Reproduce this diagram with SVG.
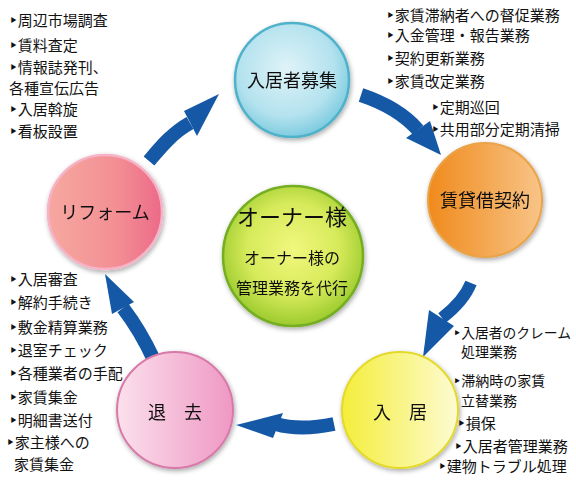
<svg xmlns="http://www.w3.org/2000/svg" width="576" height="480" viewBox="0 0 576 480">
<style>
.t{font-family:"Noto Sans CJK JP","DejaVu Sans",sans-serif;font-size:15px;fill:#111}
.s{font-size:14px}
.n{font-family:"Noto Sans CJK JP","DejaVu Sans",sans-serif;font-size:18px;fill:#111;text-anchor:middle}
.arw{fill:none;stroke:#1559a6;stroke-width:14}
.ah{fill:#1559a6}
</style>
<defs>
<filter id="sh" x="-20%" y="-20%" width="140%" height="140%"><feGaussianBlur in="SourceAlpha" stdDeviation="2.5"/><feOffset dx="1" dy="2"/><feComponentTransfer><feFuncA type="linear" slope="0.35"/></feComponentTransfer><feMerge><feMergeNode/><feMergeNode in="SourceGraphic"/></feMerge></filter>
<radialGradient id="gC" cx="0.45" cy="0.4" r="0.6"><stop offset="0" stop-color="#dff3f8"/><stop offset="0.7" stop-color="#b3e2ee"/><stop offset="1" stop-color="#7fcce0"/></radialGradient>
<linearGradient id="gO" x1="0" y1="0" x2="1" y2="0"><stop offset="0" stop-color="#f08a1c"/><stop offset="1" stop-color="#f8c487"/></linearGradient>
<linearGradient id="gR" x1="0" y1="0" x2="1" y2="0"><stop offset="0" stop-color="#f6a8a0"/><stop offset="0.6" stop-color="#f38f94"/><stop offset="1" stop-color="#ec6a88"/></linearGradient>
<radialGradient id="gG" cx="0.5" cy="0.45" r="0.55"><stop offset="0" stop-color="#f2f77e"/><stop offset="0.6" stop-color="#d6ea5a"/><stop offset="1" stop-color="#9ccb2e"/></radialGradient>
<linearGradient id="gM" x1="0" y1="0" x2="1" y2="0"><stop offset="0" stop-color="#fbe0ec"/><stop offset="1" stop-color="#ef98c4"/></linearGradient>
<linearGradient id="gY" x1="0" y1="0" x2="1" y2="0"><stop offset="0" stop-color="#f4ee3a"/><stop offset="1" stop-color="#fdfbd2"/></linearGradient>
</defs>
<rect width="576" height="480" fill="#fff"/>
<g id="connectors">
<path class="arw" d="M149,161 C160,148 172,133 190,123"/>
<polygon class="ah" points="219,94 184,111 197,136"/>
<path class="arw" d="M361,95 C385,103 405,115 418,130"/>
<polygon class="ah" points="441,155 406,138 430,121"/>
<path class="arw" style="stroke-width:12" d="M471,283 C465,298 455,308 442,318"/>
<polygon class="ah" points="423,357 429,310 454,326"/>
<path class="arw" d="M334,424 Q300,431 276,424"/>
<polygon class="ah" points="236,425 283,413 273,438"/>
<path class="arw" d="M154,360 Q140,330 123,308"/>
<polygon class="ah" points="105,274 112,314 134,302"/>
</g>
<g id="recruit" filter="url(#sh)">
<circle cx="292" cy="80" r="57" fill="url(#gC)" stroke="#4fb2ca" stroke-width="2.5"/>
<text class="n" x="292" y="87">入居者募集</text>
</g>
<g id="contract" filter="url(#sh)">
<circle cx="485" cy="200" r="57" fill="url(#gO)" stroke="#e9a34a" stroke-width="2"/>
<text class="n" x="485" y="207">賃貸借契約</text>
</g>
<g id="reform" filter="url(#sh)">
<circle cx="105" cy="212" r="57" fill="url(#gR)" stroke="#f6b3c8" stroke-width="2.5"/>
<text class="n" x="105" y="219">リフォーム</text>
</g>
<g id="owner" filter="url(#sh)">
<circle cx="293" cy="256" r="70" fill="url(#gG)" stroke="#74ae22" stroke-width="2.5"/>
<text class="n" x="292" y="225" style="font-size:22px">オーナー様</text>
<text class="n" x="292" y="264" style="font-size:16px">オーナー様の</text>
<text class="n" x="292" y="294" style="font-size:16px">管理業務を代行</text>
</g>
<g id="moveout" filter="url(#sh)">
<circle cx="175" cy="410" r="58" fill="url(#gM)" stroke="#d77aa9" stroke-width="2"/>
<text class="n" x="175" y="419">退　去</text>
</g>
<g id="movein" filter="url(#sh)">
<circle cx="400" cy="410" r="58" fill="url(#gY)" stroke="#e3d92c" stroke-width="2"/>
<text class="n" x="400" y="419">入　居</text>
</g>
<g id="list-recruit">
<text class="t" x="9" y="26">‣周辺市場調査</text>
<text class="t" x="9" y="51">‣賃料査定</text>
<text class="t" x="9" y="73">‣情報誌発刊、</text>
<text class="t" x="9" y="94">各種宣伝広告</text>
<text class="t" x="9" y="115">‣入居斡旋</text>
<text class="t" x="9" y="137">‣看板設置</text>
</g>
<g id="list-contract">
<text class="t" x="386" y="21">‣家賃滞納者への督促業務</text>
<text class="t" x="386" y="41">‣入金管理・報告業務</text>
<text class="t" x="386" y="64">‣契約更新業務</text>
<text class="t" x="386" y="87">‣家賃改定業務</text>
<text class="t" x="431" y="113">‣定期巡回</text>
<text class="t" x="431" y="135">‣共用部分定期清掃</text>
</g>
<g id="list-moveout">
<text class="t" x="9" y="285">‣入居審査</text>
<text class="t" x="9" y="308">‣解約手続き</text>
<text class="t" x="9" y="333">‣敷金精算業務</text>
<text class="t" x="9" y="356">‣退室チェック</text>
<text class="t" x="9" y="379">‣各種業者の手配</text>
<text class="t" x="9" y="403">‣家賃集金</text>
<text class="t" x="9" y="426">‣明細書送付</text>
<text class="t" x="6" y="448">‣家主様への</text>
<text class="t" x="14" y="470">家賃集金</text>
</g>
<g id="list-movein">
<text class="t s" x="453" y="338" textLength="118" lengthAdjust="spacingAndGlyphs">‣入居者のクレーム</text>
<text class="t s" x="461" y="357">処理業務</text>
<text class="t s" x="453" y="386">‣滞納時の家賃</text>
<text class="t s" x="461" y="406">立替業務</text>
<text class="t" x="457" y="429">‣損保</text>
<text class="t" x="454" y="452">‣入居者管理業務</text>
<text class="t" x="438" y="472">‣建物トラブル処理</text>
</g>
</svg>
